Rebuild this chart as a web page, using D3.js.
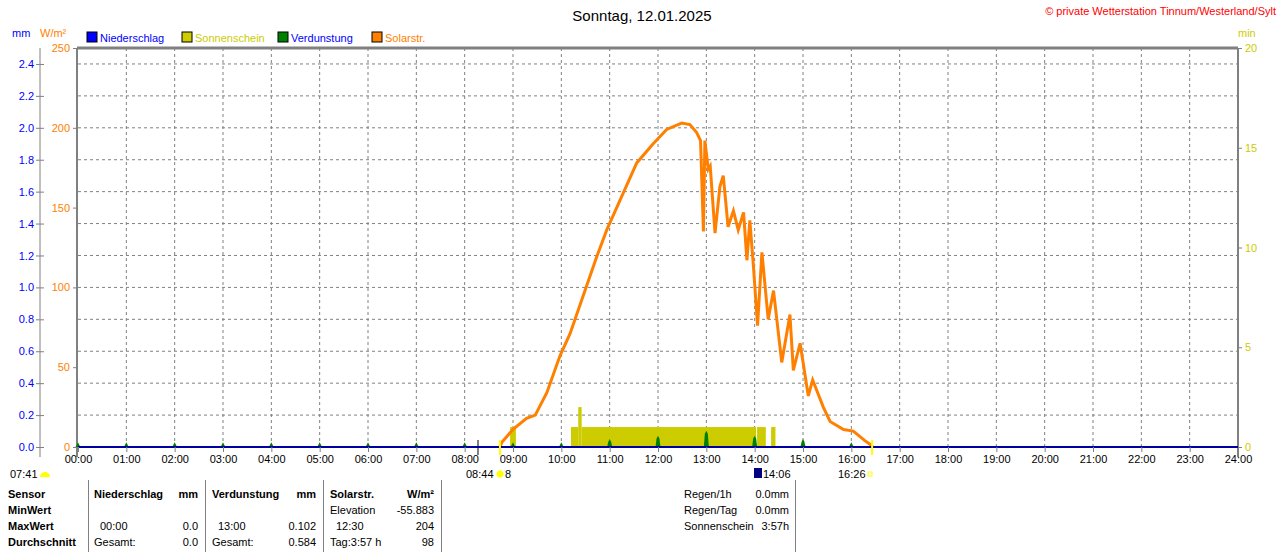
<!DOCTYPE html>
<html><head><meta charset="utf-8">
<script src="https://cdn.jsdelivr.net/npm/d3@7"></script>
<style>body{margin:0;background:#fff}svg{font-family:"Liberation Sans",Arial,sans-serif;font-size:11px}</style>
</head><body><div id="chart"></div>
<script>
// Data
const solarTimes = [8.73,8.77,9.0,9.28,9.46,9.7,9.97,10.18,10.49,10.73,10.94,11.28,11.56,11.9,12.18,12.49,12.66,12.8,12.88,12.94,12.97,13.04,13.08,13.18,13.28,13.35,13.45,13.56,13.66,13.77,13.84,13.9,13.97,14.06,14.15,14.28,14.39,14.56,14.73,14.8,14.94,15.11,15.2,15.42,15.56,15.84,16.04,16.28,16.42,16.44];
const solarValues = [0,3,11,18,20,34,57,71,98,119,136,159,178,190,199,203,202,197,192,135,192,174,176,134,163,170,138,148,136,147,117,142,115,76,122,80,98,53,83,48,65,32,42,25,16,11,10,4,1,0];
const sunIntervals = [[8.94,9.06,1],[10.2,10.35,1],[10.35,10.42,2],[10.42,14.03,1],[14.05,14.23,1],[14.34,14.43,1]];
const evapHours = [0,1,2,3,4,5,6,7,8,9,10,11,12,13,14,15,16];
const evapValues = [0.03,0.03,0.03,0.03,0.03,0.03,0.03,0.03,0.03,0.03,0.03,0.05,0.07,0.102,0.07,0.05,0.03];
const mmTicks = [0,0.2,0.4,0.6,0.8,1.0,1.2,1.4,1.6,1.8,2.0,2.2,2.4];
const wTicks = [0,50,100,150,200,250];
const minTicks = [0,5,10,15,20];
const legend = [["Niederschlag","#0000ff","#0000ff"],["Sonnenschein","#cccc00","#cccc00"],["Verdunstung","#008000","#0000ff"],["Solarstr.","#ff8000","#ff8000"]];

const W = 1280, H = 552;
const m = {left: 78, right: 1238, top: 48, bottom: 447};
const svg = d3.select("#chart").append("svg").attr("width", W).attr("height", H);

const x = d3.scaleLinear().domain([0, 24]).range([m.left, m.right]);
const yW = d3.scaleLinear().domain([0, 250]).range([m.bottom, m.top]);
const yMM = d3.scaleLinear().domain([0, 2.5]).range([m.bottom, m.top]);
const yMin = d3.scaleLinear().domain([0, 20]).range([m.bottom, m.top]);

// grid
const grid = svg.append("g").attr("stroke", "#808080").attr("stroke-dasharray", "3,3");
grid.selectAll(".gv").data(d3.range(1, 24)).join("line")
    .attr("x1", d => x(d)).attr("x2", d => x(d)).attr("y1", m.top).attr("y2", m.bottom);
grid.selectAll(".gh").data(mmTicks.slice(1)).join("line")
    .attr("x1", m.left).attr("x2", m.right).attr("y1", d => yMM(d)).attr("y2", d => yMM(d));

// frame
svg.append("line").attr("x1", m.left - 1).attr("x2", m.right).attr("y1", m.top).attr("y2", m.top).attr("stroke", "#808080").attr("stroke-width", 3);
svg.append("line").attr("x1", m.left - 1).attr("x2", m.left - 1).attr("y1", m.top).attr("y2", m.bottom + 10).attr("stroke", "#808080").attr("stroke-width", 2);
svg.append("line").attr("x1", m.right).attr("x2", m.right).attr("y1", m.top).attr("y2", m.bottom + 10).attr("stroke", "#808080").attr("stroke-width", 2);
svg.append("line").attr("x1", 478).attr("x2", 478).attr("y1", 440).attr("y2", 455).attr("stroke", "#808080").attr("stroke-width", 2);

// sunshine bars
svg.append("g").selectAll("rect").data(sunIntervals).join("rect")
    .attr("x", d => x(d[0])).attr("width", d => x(d[1]) - x(d[0]))
    .attr("y", d => yMin(d[2])).attr("height", d => yMin(0) - yMin(d[2]))
    .attr("fill", "#cccc00");

// evaporation spikes
svg.append("g").selectAll("path").data(evapHours).join("path")
    .attr("d", (d, i) => {
        const cx = x(d), top = yMM(evapValues[i]);
        return `M${cx - 2.5},${m.bottom}L${cx - 1.5},${top + 3}L${cx},${top}L${cx + 1.5},${top + 3}L${cx + 2.5},${m.bottom}Z`;
    })
    .attr("fill", "#008000");

// solar line
svg.append("path").datum(solarTimes.map((t, i) => [t, solarValues[i]]))
    .attr("d", d3.line().x(d => x(d[0])).y(d => yW(d[1])))
    .attr("fill", "none").attr("stroke", "#ff8000").attr("stroke-width", 3);

// precipitation baseline
svg.append("line").attr("x1", m.left).attr("x2", m.right).attr("y1", m.bottom).attr("y2", m.bottom).attr("stroke", "#0000a0").attr("stroke-width", 2);

// left mm axis
const mmAxis = svg.append("g").attr("transform", "translate(40,0)")
    .call(d3.axisRight(yMM).tickValues(mmTicks).tickSize(4).tickFormat(d3.format(".1f")));
mmAxis.select(".domain").attr("stroke", "#808080").attr("d", `M0,${m.top}V${m.bottom + 10}`);
mmAxis.selectAll(".tick line").attr("x1", -4).attr("x2", 4).attr("stroke", "#808080");
mmAxis.selectAll(".tick text").attr("x", -6).attr("text-anchor", "end").attr("fill", "#0000ff").attr("font-size", 11).attr("font-family", "Liberation Sans, Arial");

const wAxis = svg.append("g").attr("transform", `translate(${m.left - 1},0)`)
    .call(d3.axisLeft(yW).tickValues(wTicks).tickSize(4));
wAxis.select(".domain").remove();
wAxis.selectAll(".tick line").attr("stroke", "#808080");
wAxis.selectAll(".tick text").attr("fill", "#ff8000").attr("font-size", 11).attr("font-family", "Liberation Sans, Arial");

const minAxis = svg.append("g").attr("transform", `translate(${m.right},0)`)
    .call(d3.axisRight(yMin).tickValues(minTicks).tickSize(4));
minAxis.select(".domain").remove();
minAxis.selectAll(".tick line").attr("stroke", "#808080");
minAxis.selectAll(".tick text").attr("fill", "#cccc00").attr("font-size", 11).attr("font-family", "Liberation Sans, Arial");

// x axis
const xAxis = svg.append("g").attr("transform", `translate(0,${m.bottom})`)
    .call(d3.axisBottom(x).ticks(24).tickSize(5).tickFormat(d => d3.format("02")(d) + ":00"));
xAxis.select(".domain").remove();
xAxis.selectAll(".tick line").attr("stroke", "#808080");
xAxis.selectAll(".tick text").attr("fill", "#000").attr("font-size", 11).attr("font-family", "Liberation Sans, Arial");

// titles and legend
svg.append("text").attr("x", 642).attr("y", 21).attr("text-anchor", "middle").attr("font-size", 15).text("Sonntag, 12.01.2025");
svg.append("text").attr("x", 1276).attr("y", 15).attr("text-anchor", "end").attr("fill", "#ff0000").attr("font-size", 11).text("© private Wetterstation Tinnum/Westerland/Sylt");
svg.append("text").attr("x", 12).attr("y", 37).attr("fill", "#0000ff").attr("font-size", 11).text("mm");
svg.append("text").attr("x", 40).attr("y", 37).attr("fill", "#ff8000").attr("font-size", 11).text("W/m²");
svg.append("text").attr("x", 1238).attr("y", 37).attr("fill", "#cccc00").attr("font-size", 11).text("min");
const lg = svg.append("g");
const lpos = [87, 182, 278, 372];
legend.forEach((d, i) => {
    lg.append("rect").attr("x", lpos[i]).attr("y", 32).attr("width", 10).attr("height", 10).attr("fill", d[1]).attr("stroke", "#000");
    lg.append("text").attr("x", lpos[i] + 13).attr("y", 42).attr("fill", d[2]).attr("font-size", 11).text(d[0]);
});

// sun markers
const mk = svg.append("g").attr("font-size", 11);
mk.append("text").attr("x", 10).attr("y", 478).text("07:41");
mk.append("path").attr("d", "M40,477a5,5 0 0 1 10,0z").attr("fill", "#ffff00");
mk.append("line").attr("x1", x(8.73)).attr("x2", x(8.73)).attr("y1", 440).attr("y2", 455).attr("stroke", "#ffff00").attr("stroke-width", 2);
mk.append("text").attr("x", 466).attr("y", 478).text("08:44");
mk.append("circle").attr("cx", 500).attr("cy", 474).attr("r", 3.5).attr("fill", "#ffff00");
mk.append("text").attr("x", 505).attr("y", 478).text("8");
mk.append("rect").attr("x", 754).attr("y", 468).attr("width", 8).attr("height", 10).attr("fill", "#000080");
mk.append("text").attr("x", 763).attr("y", 478).text("14:06");
mk.append("line").attr("x1", x(16.43)).attr("x2", x(16.43)).attr("y1", 440).attr("y2", 455).attr("stroke", "#ffff00").attr("stroke-width", 2);
mk.append("text").attr("x", 838).attr("y", 478).text("16:26");
mk.append("rect").attr("x", 868).attr("y", 472).attr("width", 4).attr("height", 4).attr("fill", "none").attr("stroke", "#ffff00");

// table
const tb = svg.append("g").attr("font-size", 11);
const sep = [88, 205, 323, 441, 795];
sep.forEach(s => tb.append("line").attr("x1", s + 0.5).attr("x2", s + 0.5).attr("y1", 480).attr("y2", 552).attr("stroke", "#808080"));
const rowsY = [498, 514, 530, 546];
const bold = (xx, yy, t, a) => tb.append("text").attr("x", xx).attr("y", yy).attr("font-weight", "bold").attr("text-anchor", a || "start").text(t);
const norm = (xx, yy, t, a) => tb.append("text").attr("x", xx).attr("y", yy).attr("text-anchor", a || "start").text(t);
["Sensor", "MinWert", "MaxWert", "Durchschnitt"].forEach((t, i) => bold(8, rowsY[i], t));
bold(94, 498, "Niederschlag"); bold(198, 498, "mm", "end");
bold(212, 498, "Verdunstung"); bold(316, 498, "mm", "end");
bold(330, 498, "Solarstr."); bold(434, 498, "W/m²", "end");
norm(100, 530, "00:00"); norm(198, 530, "0.0", "end");
norm(94, 546, "Gesamt:"); norm(198, 546, "0.0", "end");
norm(218, 530, "13:00"); norm(316, 530, "0.102", "end");
norm(212, 546, "Gesamt:"); norm(316, 546, "0.584", "end");
norm(330, 514, "Elevation"); norm(434, 514, "-55.883", "end");
norm(336, 530, "12:30"); norm(434, 530, "204", "end");
norm(330, 546, "Tag:3:57 h"); norm(434, 546, "98", "end");
norm(684, 498, "Regen/1h"); norm(789, 498, "0.0mm", "end");
norm(684, 514, "Regen/Tag"); norm(789, 514, "0.0mm", "end");
norm(684, 530, "Sonnenschein"); norm(789, 530, "3:57h", "end");
</script></body></html>
